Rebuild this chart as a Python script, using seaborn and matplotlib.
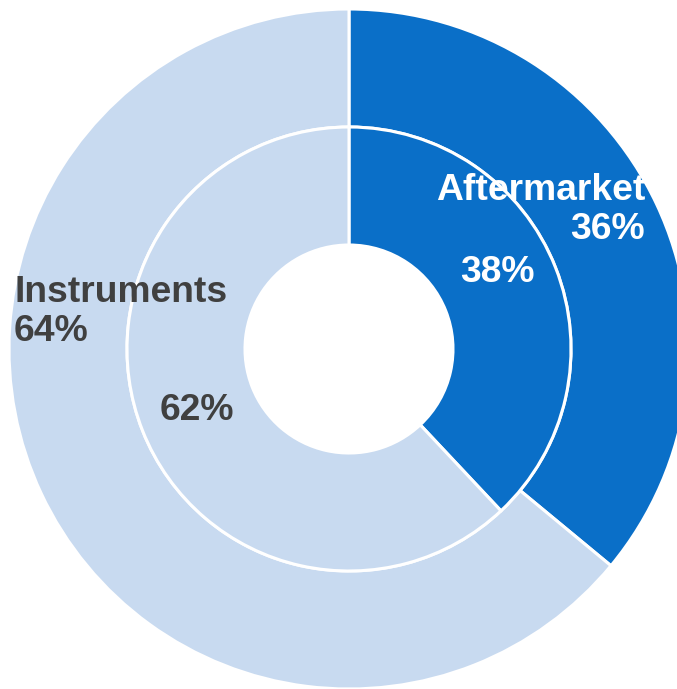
import matplotlib
matplotlib.use("Agg")
import matplotlib.pyplot as plt
import seaborn as sns

sns.set_style("white")
plt.rcParams['font.family'] = ['Liberation Sans', 'DejaVu Sans']

# segment data
segments = ["Aftermarket", "Instruments"]
outer_share = [36, 64]
inner_share = [38, 62]
seg_colors = ["#0A6FC8", "#C8DAF0"]
text_colors = ["white", "#404040"]

fig = plt.figure(figsize=(6.77, 6.89), dpi=100)
ax = fig.add_axes([0, 0, 1, 1])

R_OUT = 340
R_MID = 222
R_IN = 104

wedge_style = dict(edgecolor="white", linewidth=2.2)
ax.pie(outer_share, radius=R_OUT, colors=seg_colors, startangle=90, counterclock=False,
       wedgeprops=dict(width=R_OUT - R_MID, **wedge_style))
ax.pie(inner_share, radius=R_MID, colors=seg_colors, startangle=90, counterclock=False,
       wedgeprops=dict(width=R_MID - R_IN, **wedge_style))

# outer ring labels
ax.text(296, 139, f"{segments[0]}\n{outer_share[0]}%", ha="right", va="center",
        color=text_colors[0], fontsize=26.8, fontweight="bold", linespacing=1.15)
ax.text(-335, 37, f"{segments[1]}\n{outer_share[1]}%", ha="left", va="center",
        color=text_colors[1], fontsize=26.8, fontweight="bold", linespacing=1.15)

# inner ring labels
ax.text(148, 77, f"{inner_share[0]}%", ha="center", va="center",
        color=text_colors[0], fontsize=26.8, fontweight="bold")
ax.text(-152, -61, f"{inner_share[1]}%", ha="center", va="center",
        color=text_colors[1], fontsize=26.8, fontweight="bold")

ax.set_xlim(-349, 677 - 349)
ax.set_ylim(-(689 - 349), 349)
ax.set_aspect("equal")
ax.axis("off")

fig.savefig("out.png", dpi=100)
